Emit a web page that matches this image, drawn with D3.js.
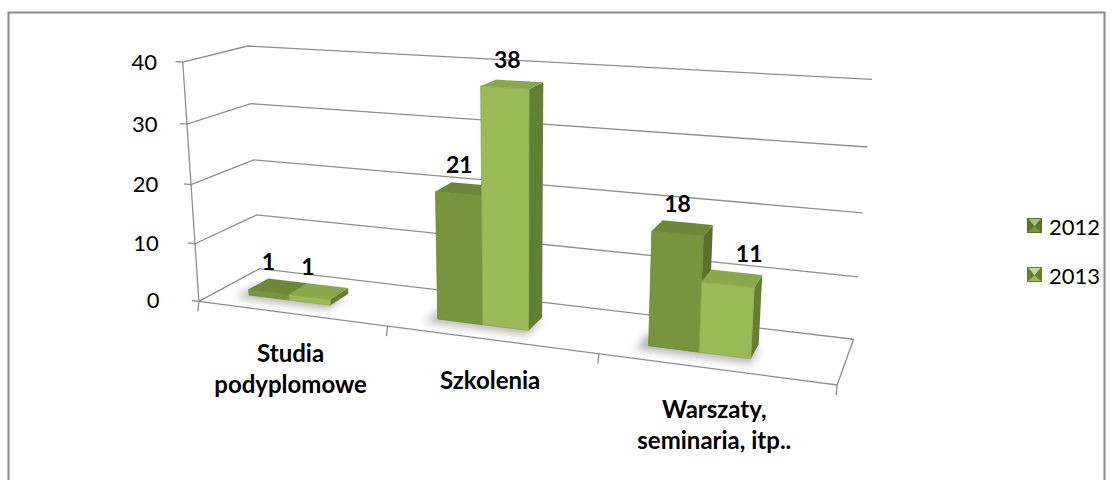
<!DOCTYPE html>
<html><head><meta charset="utf-8">
<script src="https://cdn.jsdelivr.net/npm/d3@7"></script>
<style>body{margin:0;background:#fff;} svg{display:block;}</style>
</head><body><svg id="c" width="1114" height="480"></svg>
<script>
// ---------- data ----------
const categories = ["Studia podyplomowe", "Szkolenia", "Warszaty, seminaria, itp.."];
const categoryLines = [["Studia", "podyplomowe"], ["Szkolenia"], ["Warszaty,", "seminaria, itp.."]];
const seriesNames = ["2012", "2013"];
const values2012 = [1, 21, 18];
const values2013 = [1, 38, 11];
const valueTicks = [0, 10, 20, 30, 40];
const valueMax = 40;

// ---------- layout (frame of the 3D box on screen) ----------
const frameAnchors = [
  [0,0,0,199,302],[0,1,0,183,62],[0,0,1,260,269],[0,1,1,248,46],
  [1,0,1,853,338],[1,1,1,872,80],[1,0,0,837,386],
  [1,0.75,1,867,147],[1,0.5,1,863,213],[1,0.25,1,859,276],
  [1/3,0,0,388,327],[2/3,0,0,598,354],
  [0,0.75,0,187,124],[0,0.5,0,191,184],[0,0.25,0,195,242],
  [0,0.75,1,250,104],[0,0.5,1,253,160],[0,0.25,1,257,215]
];
const barZ = [0.3, 0.63];
const clusterRange = [0.175, 0.62];
const labelNudgeX = [[-5, -2, 0], [-6, 0, 22]]; // per series, per category (layout only)

function fitProjection(anchors){
  const N = 11, s = 1000;
  const A = Array.from({length:N}, () => new Array(N+1).fill(0));
  anchors.forEach(([X,Y,Z,u,v]) => {
    u /= s; v /= s;
    const rows = [[[X,Y,Z,1,0,0,0,0,-u*X,-u*Y,-u*Z], u],[[0,0,0,0,X,Y,Z,1,-v*X,-v*Y,-v*Z], v]];
    rows.forEach(([r,b]) => {
      for (let i=0;i<N;i++){ for (let j=0;j<N;j++) A[i][j] += r[i]*r[j]; A[i][N] += r[i]*b; }
    });
  });
  for (let c=0;c<N;c++){
    let piv=c; for (let r=c+1;r<N;r++) if (Math.abs(A[r][c])>Math.abs(A[piv][c])) piv=r;
    [A[c],A[piv]]=[A[piv],A[c]];
    for (let r=0;r<N;r++){ if(r===c) continue; const f=A[r][c]/A[c][c]; for(let k=c;k<=N;k++) A[r][k]-=f*A[c][k]; }
  }
  return A.map((row,i)=>row[N]/row[i]);
}
const P = fitProjection(frameAnchors);
function proj(X,Y,Z){
  const w = P[8]*X+P[9]*Y+P[10]*Z+1;
  return [1000*(P[0]*X+P[1]*Y+P[2]*Z+P[3])/w, 1000*(P[4]*X+P[5]*Y+P[6]*Z+P[7])/w];
}

const svg = d3.select("#c");
const xCat = d3.scaleLinear().domain([0, categories.length]).range([0, 1]);
const yVal = d3.scaleLinear().domain([0, valueMax]).range([0, 1]);
const band = d3.scaleBand().domain(seriesNames).range(clusterRange);
const seriesValues = [values2012, values2013];

const colors = {
  "2012": {front:"#78953d", top:"#6a8835", side:"#58722e", light:"#a7c26a"},
  "2013": {front:"#9bbb59", top:"#88a84b", side:"#637e35", light:"#c5db8c"}
};

// border
svg.append("rect").attr("x",8.5).attr("y",12.5).attr("width",1096).attr("height",480)
  .attr("fill","none").attr("stroke","#898989").attr("stroke-width",2);

const line = d3.line();
const gridColor = "#8e8e8e";
valueTicks.forEach(t => {
  const y = yVal(t);
  svg.append("path").attr("d", line([proj(0,y,0), proj(0,y,1), proj(1,y,1)]))
    .attr("fill","none").attr("stroke",gridColor).attr("stroke-width",1.3);
});
svg.append("path").attr("d", line([proj(0,0,0), proj(1,0,0), proj(1,0,1)]))
  .attr("fill","none").attr("stroke",gridColor).attr("stroke-width",1.3);
svg.append("path").attr("d", line([proj(0,0,0), proj(0,1,0)]))
  .attr("fill","none").attr("stroke",gridColor).attr("stroke-width",1.3);
const topTick = proj(-0.013, 1, 0);
valueTicks.forEach(t => {
  const y = yVal(t);
  const a = proj(0,y,0), b = proj(-0.013,y,0);
  svg.append("path").attr("d", line([a,b])).attr("stroke",gridColor).attr("stroke-width",1.3);
  svg.append("text").attr("x", 157 + (b[0]-topTick[0])*0.15).attr("y", b[1]+8).attr("text-anchor","end")
    .attr("font-family","Lato").attr("font-size",22).attr("fill","#000").text(t);
});
d3.range(categories.length+1).forEach(i => {
  const a = proj(xCat(i),0,0);
  svg.append("path").attr("d", line([a,[a[0]-1,a[1]+10]])).attr("stroke",gridColor).attr("stroke-width",1.3);
});
categoryLines.forEach((lines,i) => {
  const m = proj(xCat(i+0.5),0,0);
  const t = svg.append("text").attr("text-anchor","middle").attr("font-family","Lato")
    .attr("font-weight","bold").attr("font-size",24).attr("fill","#000");
  lines.forEach((l,k) => t.append("tspan").attr("x", m[0]).attr("y", m[1]+49+k*31).text(l));
});

const defs = svg.append("defs");
defs.append("filter").attr("id","blur").attr("x","-50%").attr("y","-50%").attr("width","200%").attr("height","200%")
  .append("feGaussianBlur").attr("stdDeviation",4);

const bars = [];
categories.forEach((c,i) => seriesNames.forEach((s,k) => {
  const x0 = xCat(i + band(s)), x1 = xCat(i + band(s) + band.bandwidth());
  bars.push({i, k, s, v: seriesValues[k][i], x0, x1});
}));
categories.forEach((c,i) => {
  const x0 = xCat(i + clusterRange[0]) - 0.014, x1 = xCat(i + clusterRange[1]) + 0.004;
  const z0 = barZ[0]-0.1, z1 = barZ[1]-0.08;
  svg.append("path").attr("d", line([proj(x0,0,z0),proj(x1,0,z0),proj(x1,0,z1),proj(x0,0,z1)])+"Z")
    .attr("fill","#7a7a7a").attr("opacity",0.55).attr("filter","url(#blur)");
});
bars.forEach(b => {
  const y = yVal(b.v), [z0,z1] = barZ, col = colors[b.s];
  const g = svg.append("g");
  g.append("path").attr("d", line([proj(b.x1,0,z0),proj(b.x1,0,z1),proj(b.x1,y,z1),proj(b.x1,y,z0)])+"Z").attr("fill",col.side);
  g.append("path").attr("d", line([proj(b.x0,y,z0),proj(b.x1,y,z0),proj(b.x1,y,z1),proj(b.x0,y,z1)])+"Z").attr("fill",col.top);
  g.append("path").attr("d", line([proj(b.x0,0,z0),proj(b.x1,0,z0),proj(b.x1,y,z0),proj(b.x0,y,z0)])+"Z").attr("fill",col.front)
    .attr("stroke", col.top).attr("stroke-width",0.8);
});
bars.forEach(b => {
  const y = yVal(b.v);
  const p = proj((b.x0+b.x1)/2, y, (barZ[0]+barZ[1])/2);
  svg.append("text").attr("x", p[0]-5+labelNudgeX[b.k][b.i]).attr("y", p[1]-16).attr("text-anchor","middle")
    .attr("font-family","Lato").attr("font-weight","bold").attr("font-size",23).attr("fill","#000").text(b.v);
});

seriesNames.forEach((s,k) => {
  const x = 1027, y = 218 + k*49, sz = 15, col = colors[s];
  const g = svg.append("g");
  g.append("rect").attr("x",x).attr("y",y).attr("width",sz).attr("height",sz).attr("fill",col.side);
  g.append("path").attr("d", line([[x+1.5,y+1],[x+sz-1.5,y+1],[x+sz/2,y+sz*0.55]])+"Z").attr("fill", col.light);
  g.append("path").attr("d", line([[x+sz-1,y+sz-1],[x+1,y+sz-1],[x+sz/2,y+sz*0.55]])+"Z").attr("fill",col.front);
  svg.append("text").attr("x",1049).attr("y",y+17).attr("font-family","Lato").attr("font-size",22).attr("fill","#000").text(s);
});
</script></body></html>
